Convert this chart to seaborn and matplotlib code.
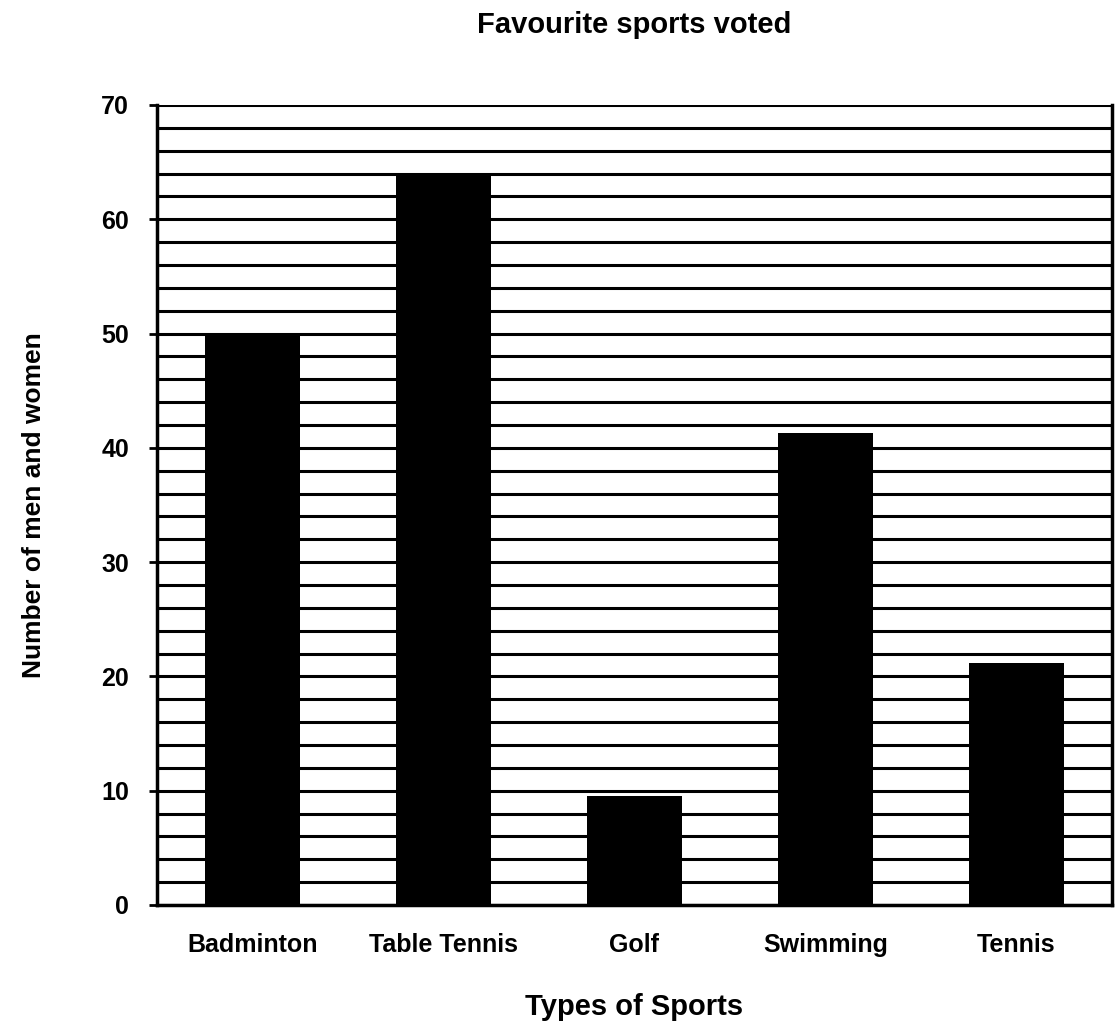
import numpy as np
import pandas as pd
import matplotlib
matplotlib.use('Agg')
import matplotlib.pyplot as plt
import seaborn as sns

sports = ['Badminton', 'Table Tennis', 'Golf', 'Swimming', 'Tennis']
votes = [50, 64, 9.5, 41.3, 21.2]


def main():
    sns.set_style('white')
    plt.rcParams['font.family'] = ['Liberation Sans', 'DejaVu Sans']
    plt.rcParams['text.color'] = 'black'
    plt.rcParams['axes.labelcolor'] = 'black'
    plt.rcParams['xtick.color'] = 'black'
    plt.rcParams['ytick.color'] = 'black'

    df = pd.DataFrame({'sport': sports, 'votes': votes})

    fig = plt.figure(figsize=(11.18, 10.23), dpi=100)
    ax = fig.add_axes([157 / 1118, 1 - 905 / 1023, 955 / 1118, 800 / 1023])

    # dense horizontal grid every 2 units
    for y in np.arange(0, 71, 2):
        ax.axhline(y, color='black', linewidth=2.2, zorder=0)

    sns.barplot(x='sport', y='votes', data=df, color='black', width=0.5,
                saturation=1, edgecolor='black', linewidth=0, ax=ax, zorder=2)

    ax.set_ylim(0, 70)
    ax.set_xlim(-0.5, 4.5)
    ax.set_yticks(range(0, 71, 10))
    ax.tick_params(axis='y', left=True, direction='out', length=6, width=2,
                   labelsize=18, pad=14)
    ax.tick_params(axis='x', length=0, labelsize=18, pad=20)
    for lab in ax.get_xticklabels() + ax.get_yticklabels():
        lab.set_fontweight('bold')

    for side in ['left', 'right', 'bottom']:
        ax.spines[side].set_color('black')
        ax.spines[side].set_linewidth(2.5)
    ax.spines['top'].set_visible(False)

    ax.set_xlabel('Types of Sports', fontsize=21, fontweight='bold', labelpad=26)
    ax.set_ylabel('Number of men and women', fontsize=19, fontweight='bold',
                  labelpad=40)
    ax.set_title('Favourite sports voted', fontsize=21, fontweight='bold', pad=52)

    plt.savefig('out.png', dpi=100)


if __name__ == '__main__':
    main()
